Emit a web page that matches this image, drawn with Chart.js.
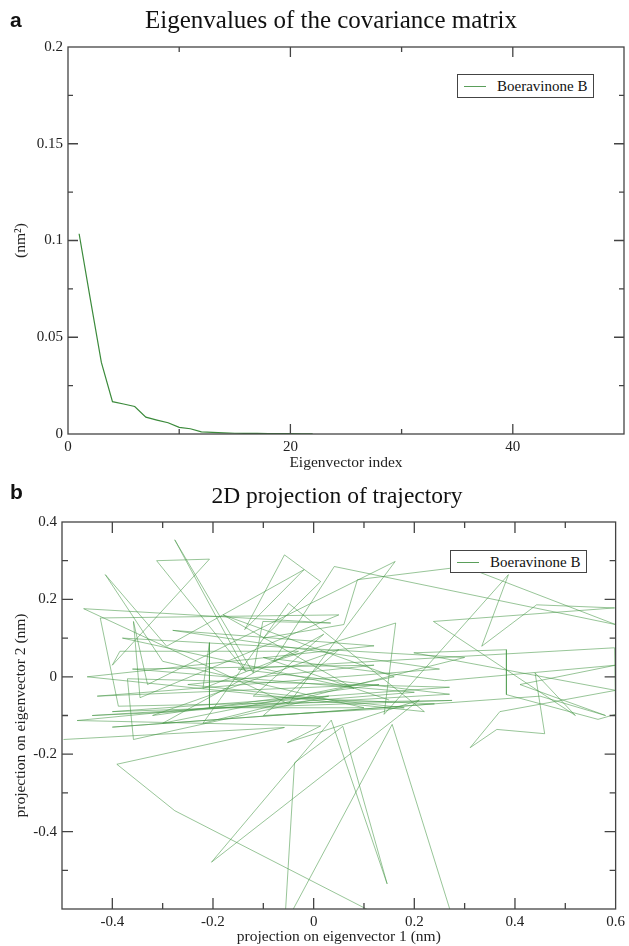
<!DOCTYPE html>
<html>
<head>
<meta charset="utf-8">
<script src="https://cdn.jsdelivr.net/npm/chart.js@4.4.1/dist/chart.umd.min.js"></script>
<style>
  body { margin:0; background:#fff; }
  #page { position:relative; width:629px; height:946px; font-family:"Liberation Serif","Times New Roman",serif; color:#111; overflow:hidden; }
  .panel { position:absolute; left:0; width:629px; }
  .letter { position:absolute; left:10px; font-family:"Liberation Sans",Arial,sans-serif; font-weight:bold; font-size:21px; line-height:24px; }
  .title { position:absolute; line-height:26px; white-space:nowrap; transform:translateX(-50%); }
  .legend { position:absolute; width:137px; background:#fff; border:1px solid #444; box-sizing:border-box; font-size:15px; }
  .legend .swatch { position:absolute; left:6px; top:50%; width:22px; border-top:1px solid #5a9e5a; }
  .legend .label { position:absolute; left:39px; top:50%; transform:translateY(-50%); white-space:nowrap; }
</style>
</head>
<body>
<div id="page">
  <div class="panel" style="top:0;height:472px"><canvas id="eigChart"></canvas></div>
  <div class="panel" style="top:472px;height:474px"><canvas id="projChart"></canvas></div>

  <div class="letter" style="top:8px">a</div>
  <div class="title" style="left:331px;top:7px;font-size:25px">Eigenvalues of the covariance matrix</div>
  <div class="legend" style="left:457px;top:74px;height:24px"><span class="swatch"></span><span class="label">Boeravinone B</span></div>

  <div class="letter" style="top:480px">b</div>
  <div class="title" style="left:337px;top:482px;font-size:23.5px">2D projection of trajectory</div>
  <div class="legend" style="left:450px;top:550px;height:23px"><span class="swatch"></span><span class="label">Boeravinone B</span></div>
</div>

<script>
// ---- panel a : eigenvalues ----
const eigIndex  = [1, 2, 3, 4, 5, 6, 7, 8, 9, 10, 11, 12, 13, 14, 15, 16, 17, 18, 19, 20, 21, 22];
const eigValues = [0.1035, 0.070, 0.037, 0.0167, 0.0155, 0.0142, 0.0087, 0.0072, 0.0058, 0.0034, 0.0027,
                   0.0011, 0.0008, 0.0006, 0.0004, 0.0003, 0.0003, 0.0002, 0.0002, 0.0002, 0.0001, 0.0001];
const eigXLabels = [0, 20, 40];
const eigYLabels = [0, 0.05, 0.1, 0.15, 0.2];

// ---- panel b : projection on eigenvectors 1/2 (points past -0.6 leave the frame) ----
const projX = [-0.497, -0.058, -0.391, -0.276, 0.165, -0.061, 0.156, 0.28, -0.058, -0.038,
                0.058, 0.146, 0.035, -0.203, 0.21, -0.052, 0.014, -0.47, 0.03, -0.358,
               -0.37, 0.27, -0.40, 0.275, -0.16, -0.388, -0.424, 0.05, -0.345, -0.358,
               -0.33, 0.162, -0.05, -0.457, 0.034, -0.101, -0.12, -0.276, -0.135, -0.312,
               -0.207, -0.40, -0.385, -0.03, -0.22, -0.207, -0.207, 0.10, -0.30, -0.414,
               -0.292, -0.019, -0.137, -0.058, 0.014, -0.10, 0.06, 0.087, 0.30, 0.60,
                0.041, -0.08, 0.163, 0.14, 0.387, 0.334, 0.443, 0.598, 0.238, 0.52,
                0.44, 0.459, 0.364, 0.311, 0.37, 0.60, 0.199, 0.383, 0.383, 0.565,
                0.60, 0.598, -0.15, 0.27, -0.44, -0.27, 0.20, -0.36, 0.12, -0.25,
                0.18, -0.10, 0.05, -0.32, 0.13, -0.43, 0.25, -0.28, 0.12, -0.45,
                0.22, -0.05, -0.22, 0.30, -0.38, 0.08, -0.18, 0.16, -0.30, 0.02,
               -0.12, 0.24, -0.40, 0.45, 0.58, 0.41, 0.60, 0.26, -0.10, 0.15];
const projY = [-0.162, -0.131, -0.226, -0.346, -0.64, -0.65, -0.123, -0.64, -0.65, -0.222,
               -0.128, -0.535, -0.112, -0.479, -0.06, -0.170, -0.127, -0.113, -0.05, -0.162,
               -0.005, -0.027, -0.09, -0.061, -0.07, -0.076, 0.152, 0.16, -0.054, 0.143,
               -0.02, 0.298, -0.07, 0.176, 0.139, 0.143, 0.01, 0.354, 0.014, 0.30,
                0.304, 0.03, 0.066, 0.066, -0.03, 0.088, -0.08, -0.08, 0.04, 0.264,
                0.079, 0.277, 0.122, 0.315, 0.246, 0.10, 0.135, 0.251, 0.285, 0.135,
                0.285, 0.04, 0.139, -0.097, 0.264, 0.079, 0.186, 0.178, 0.143, -0.10,
                0.01, -0.147, -0.136, -0.183, -0.09, -0.035, 0.062, 0.070, -0.046, -0.11,
               -0.097, 0.075, 0.02, -0.045, -0.10, -0.09, -0.04, 0.02, 0.03, -0.02,
               -0.08, -0.10, 0.07, -0.10, -0.02, -0.05, 0.02, 0.12, 0.08, 0.00,
               -0.09, 0.19, -0.12, 0.05, 0.10, -0.03, 0.16, 0.00, -0.12, 0.11,
               -0.05, -0.07, -0.13, -0.05, -0.10, -0.02, 0.03, -0.01, 0.05, -0.06];
const projXLabels = [-0.4, -0.2, 0, 0.2, 0.4, 0.6];
const projYLabels = [-0.4, -0.2, 0, 0.2, 0.4];

const SERIF = '"Liberation Serif", "Times New Roman", serif';
Chart.defaults.font.family = SERIF;
Chart.defaults.color = '#111';

function labelFrom(list) {
  return v => {
    const hit = list.find(l => Math.abs(l - v) < 1e-6);
    return hit === undefined ? '' : String(hit);
  };
}

// frame + inward tick marks on all four sides (xmgrace style)
const innerTicks = {
  id: 'innerTicks',
  afterDraw(chart, args, opts) {
    const { ctx, chartArea: a, scales } = chart;
    ctx.save();
    ctx.strokeStyle = '#444';
    ctx.lineWidth = 1.3;
    ctx.strokeRect(a.left, a.top, a.right - a.left, a.bottom - a.top);
    ctx.beginPath();
    scales.x.ticks.forEach(t => {
      const px = scales.x.getPixelForValue(t.value);
      if (px <= a.left + 1 || px >= a.right - 1) return;
      const len = t.label !== '' ? opts.major : opts.minor;
      ctx.moveTo(px, a.bottom); ctx.lineTo(px, a.bottom - len);
      ctx.moveTo(px, a.top);    ctx.lineTo(px, a.top + len);
    });
    scales.y.ticks.forEach(t => {
      const py = scales.y.getPixelForValue(t.value);
      if (py <= a.top + 1 || py >= a.bottom - 1) return;
      const len = t.label !== '' ? opts.major : opts.minor;
      ctx.moveTo(a.left, py);  ctx.lineTo(a.left + len, py);
      ctx.moveTo(a.right, py); ctx.lineTo(a.right - len, py);
    });
    ctx.stroke();
    ctx.restore();
  }
};

function axis(o) {
  return {
    type: 'linear', min: o.min, max: o.max,
    grid: { display: false, drawTicks: false },
    border: { display: false },
    ticks: { stepSize: o.step, padding: o.pad, autoSkip: false, maxRotation: 0,
             font: { size: 15 }, color: '#222', callback: labelFrom(o.labels) },
    title: { display: true, text: o.title, font: { size: 15.5 }, color: '#222', padding: 0 },
    afterFit: o.fit
  };
}

new Chart(document.getElementById('eigChart'), {
  type: 'scatter',
  data: {
    datasets: [{
      label: 'Boeravinone B',
      data: eigIndex.map((x, i) => ({ x, y: eigValues[i] })),
      showLine: true, borderColor: '#3b8a3b', borderWidth: 1.2, pointRadius: 0, clip: 0
    }]
  },
  options: {
    responsive: true, maintainAspectRatio: false, animation: false,
    layout: { padding: { top: 47, right: 5, left: 12, bottom: 0 } },
    plugins: { legend: { display: false }, tooltip: { enabled: false },
               innerTicks: { major: 10, minor: 5 } },
    scales: {
      x: axis({ min: 0, max: 50, step: 10, pad: 4, labels: eigXLabels, title: 'Eigenvector index',
                fit: s => { s.height = 38; } }),
      y: axis({ min: 0, max: 0.2, step: 0.025, pad: 5, labels: eigYLabels, title: '(nm²)',
                fit: s => { s.width = 56; } })
    }
  },
  plugins: [innerTicks]
});

new Chart(document.getElementById('projChart'), {
  type: 'scatter',
  data: {
    datasets: [{
      label: 'Boeravinone B',
      data: projX.map((x, i) => ({ x, y: projY[i] })),
      showLine: true, borderColor: 'rgba(70,150,70,0.7)', borderWidth: 0.8, pointRadius: 0, clip: 0
    }]
  },
  options: {
    responsive: true, maintainAspectRatio: false, animation: false,
    layout: { padding: { top: 50, right: 11, left: 12, bottom: 0 } },
    plugins: { legend: { display: false }, tooltip: { enabled: false },
               innerTicks: { major: 11, minor: 6 } },
    scales: {
      x: axis({ min: -0.5, max: 0.6, step: 0.1, pad: 4, labels: projXLabels, title: 'projection on eigenvector 1 (nm)',
                fit: s => { s.height = 37; } }),
      y: axis({ min: -0.6, max: 0.4, step: 0.1, pad: 5, labels: projYLabels, title: 'projection on eigenvector 2 (nm)',
                fit: s => { s.width = 50; } })
    }
  },
  plugins: [innerTicks]
});
</script>
</body>
</html>
